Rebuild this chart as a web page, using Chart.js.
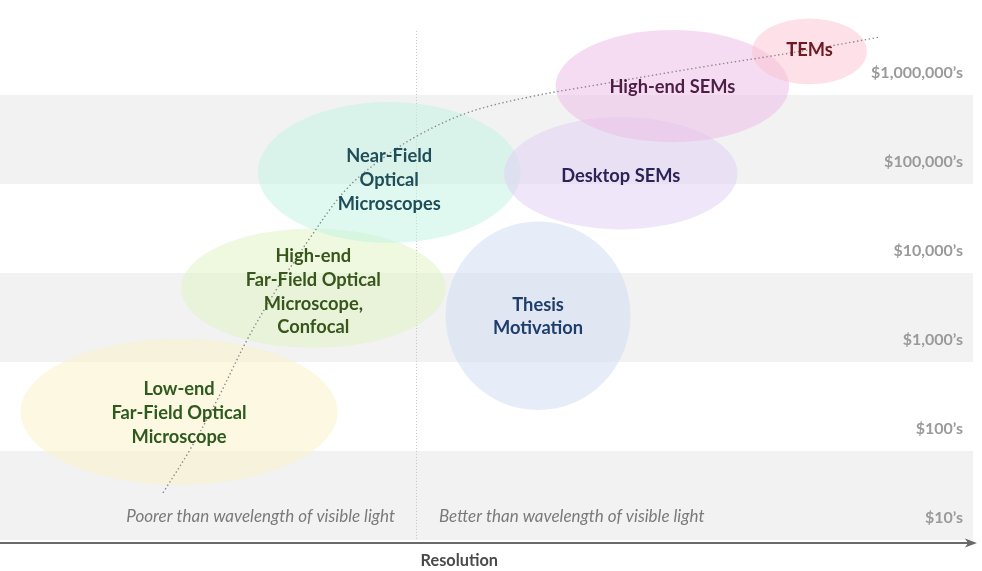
<!DOCTYPE html>
<html>
<head>
<meta charset="utf-8">
<script src="https://cdn.jsdelivr.net/npm/chart.js@4.4.1/dist/chart.umd.min.js"></script>
<style>
  html, body { margin: 0; padding: 0; background: #ffffff; }
  #wrap { width: 982px; height: 571px; position: relative; }
</style>
</head>
<body>
<div id="wrap"><canvas id="c"></canvas></div>
<script>
// ---- data ----
const categories = [
  'Low-end Far-Field Optical Microscope',
  'High-end Far-Field Optical Microscope, Confocal',
  'Near-Field Optical Microscopes',
  'Thesis Motivation',
  'Desktop SEMs',
  'High-end SEMs',
  'TEMs'
];
const labelLines = [
  ['Low-end', 'Far-Field Optical', 'Microscope'],
  ['High-end', 'Far-Field Optical', 'Microscope,', 'Confocal'],
  ['Near-Field', 'Optical', 'Microscopes'],
  ['Thesis', 'Motivation'],
  ['Desktop SEMs'],
  ['High-end SEMs'],
  ['TEMs']
];
// resolution position (0-100) and price band (0-6) of each group
const centerX = [18.4, 32.2, 40.0, 55.3, 63.8, 69.1, 83.2];
const centerY = [1.44, 2.83, 4.13, 2.52, 4.12, 5.10, 5.49];
// half extents of each group
const spreadX = [16.3, 13.6, 13.5, 9.5, 12.0, 12.0, 5.9];
const spreadY = [0.82, 0.67, 0.79, 1.06, 0.63, 0.63, 0.37];
const labelY = [1.43, 2.79, 4.04, 2.51, 4.09, 5.09, 5.51];
const fillColors = [
  'rgba(251, 241, 195, 0.5)',
  'rgba(221, 243, 193, 0.5)',
  'rgba(193, 243, 225, 0.5)',
  'rgba(205, 219, 243, 0.5)',
  'rgba(223, 205, 243, 0.5)',
  'rgba(237, 185, 229, 0.5)',
  'rgba(251, 193, 209, 0.5)'
];
const textColors = ['#2f5a1f', '#38561b', '#1f4d58', '#1f3d6b', '#2b2456', '#4d1f45', '#6e1a22'];

const priceTicks = ['$10\u2019s', '$100\u2019s', '$1,000\u2019s', '$10,000\u2019s', '$100,000\u2019s', '$1,000,000\u2019s'];

// dotted trend
const trendX = [16.75, 19.5, 22.3, 25.4, 28.5, 31.9, 35.5, 39.1, 43.2, 48.3, 54.5, 61.7, 71.9, 82.2, 90.4];
const trendY = [0.53, 1.01, 1.57, 2.25, 2.83, 3.40, 3.93, 4.27, 4.56, 4.81, 4.98, 5.12, 5.31, 5.49, 5.65];

const visibleLightLimit = 42.75;
const noteY = 0.26;
const notes = ['Poorer than wavelength of visible light', 'Better than wavelength of visible light'];
const xTitle = 'Resolution';

const FONT = 'Lato, "Open Sans", sans-serif';

// ---- plugins ----
const backdrop = {
  id: 'backdrop',
  beforeDraw(chart) {
    const {ctx, chartArea: a, scales: {x, y}} = chart;
    ctx.save();
    // bands
    for (let i = 0; i < priceTicks.length; i++) {
      if (i % 2 === 0) {
        const top = y.getPixelForValue(i + 1), bot = y.getPixelForValue(i);
        ctx.fillStyle = '#f2f2f2';
        ctx.fillRect(a.left, top, a.right - a.left, bot - top);
      }
    }
    // divider
    const dx = Math.round(x.getPixelForValue(visibleLightLimit)) + 0.5;
    ctx.strokeStyle = '#c4c4c4';
    ctx.lineWidth = 1;
    ctx.setLineDash([1, 2]);
    ctx.beginPath();
    ctx.moveTo(dx, y.getPixelForValue(5.72));
    ctx.lineTo(dx, a.bottom);
    ctx.stroke();
    ctx.setLineDash([]);
    // ellipses
    for (let i = 0; i < categories.length; i++) {
      const cx = x.getPixelForValue(centerX[i]);
      const cy = y.getPixelForValue(centerY[i]);
      const rx = Math.abs(x.getPixelForValue(centerX[i] + spreadX[i]) - cx);
      const ry = Math.abs(y.getPixelForValue(centerY[i] + spreadY[i]) - cy);
      ctx.fillStyle = fillColors[i];
      ctx.beginPath();
      ctx.ellipse(cx, cy, rx, ry, 0, 0, Math.PI * 2);
      ctx.fill();
    }
    ctx.restore();
  },
  afterDatasetsDraw(chart) {
    const {ctx, scales: {x, y}} = chart;
    ctx.save();
    ctx.textAlign = 'center';
    ctx.textBaseline = 'middle';
    ctx.font = 'bold 18.3px ' + FONT;
    const lh = 23.9;
    for (let i = 0; i < categories.length; i++) {
      const cx = x.getPixelForValue(centerX[i]);
      const cy = y.getPixelForValue(labelY[i]);
      const lines = labelLines[i];
      ctx.fillStyle = textColors[i];
      lines.forEach((t, k) => {
        ctx.fillText(t, cx, cy + (k - (lines.length - 1) / 2) * lh);
      });
    }
    // notes
    const dx = x.getPixelForValue(visibleLightLimit);
    const ny = y.getPixelForValue(noteY);
    ctx.font = 'italic 17px ' + FONT;
    ctx.fillStyle = '#7a7a7a';
    ctx.textAlign = 'right';
    ctx.fillText(notes[0], dx - 21, ny);
    ctx.textAlign = 'left';
    ctx.fillText(notes[1], dx + 23, ny);
    ctx.restore();
  },
  afterDraw(chart) {
    const {ctx, chartArea: a, scales: {x}} = chart;
    ctx.save();
    const ay = a.bottom + 3;
    ctx.strokeStyle = '#6a6a6a';
    ctx.fillStyle = '#6a6a6a';
    ctx.lineWidth = 2;
    ctx.beginPath();
    ctx.moveTo(a.left, ay);
    ctx.lineTo(a.right - 2, ay);
    ctx.stroke();
    ctx.beginPath();
    ctx.moveTo(a.right + 4, ay);
    ctx.lineTo(a.right - 8, ay - 4.5);
    ctx.lineTo(a.right - 5, ay);
    ctx.lineTo(a.right - 8, ay + 4.5);
    ctx.closePath();
    ctx.fill();
    ctx.font = 'bold 16.3px ' + FONT;
    ctx.fillStyle = '#4a4a4a';
    ctx.textAlign = 'center';
    ctx.textBaseline = 'middle';
    ctx.fillText(xTitle, x.getPixelForValue(47.2), a.bottom + 21);
    ctx.restore();
  }
};

new Chart(document.getElementById('c'), {
  type: 'scatter',
  data: {
    datasets: [{
      label: 'trend',
      data: trendX.map((v, i) => ({x: v, y: trendY[i]})),
      showLine: true,
      tension: 0.35,
      borderColor: '#8a8a8a',
      borderWidth: 1.4,
      borderDash: [1.4, 2.6],
      pointRadius: 0,
      fill: false
    }]
  },
  options: {
    responsive: true,
    maintainAspectRatio: false,
    animation: false,
    layout: { padding: { top: 6, bottom: 31, left: 0, right: 9 } },
    plugins: { legend: { display: false }, tooltip: { enabled: false } },
    scales: {
      x: { type: 'linear', min: 0, max: 100, display: false },
      y: {
        type: 'linear', min: 0, max: 6, position: 'right',
        afterBuildTicks(scale) { scale.ticks = priceTicks.map((_, i) => ({value: i + 0.25})); },
        afterFit(scale) { scale.width = 0; scale.paddingTop = 0; scale.paddingBottom = 0; },
        ticks: {
          mirror: true, padding: -10,
          color: '#9a9a9a',
          font: { family: FONT, size: 16, weight: 'bold' },
          callback(v, i) { return priceTicks[i]; }
        },
        grid: { display: false, drawTicks: false },
        border: { display: false }
      }
    }
  },
  plugins: [backdrop]
});
</script>
</body>
</html>
